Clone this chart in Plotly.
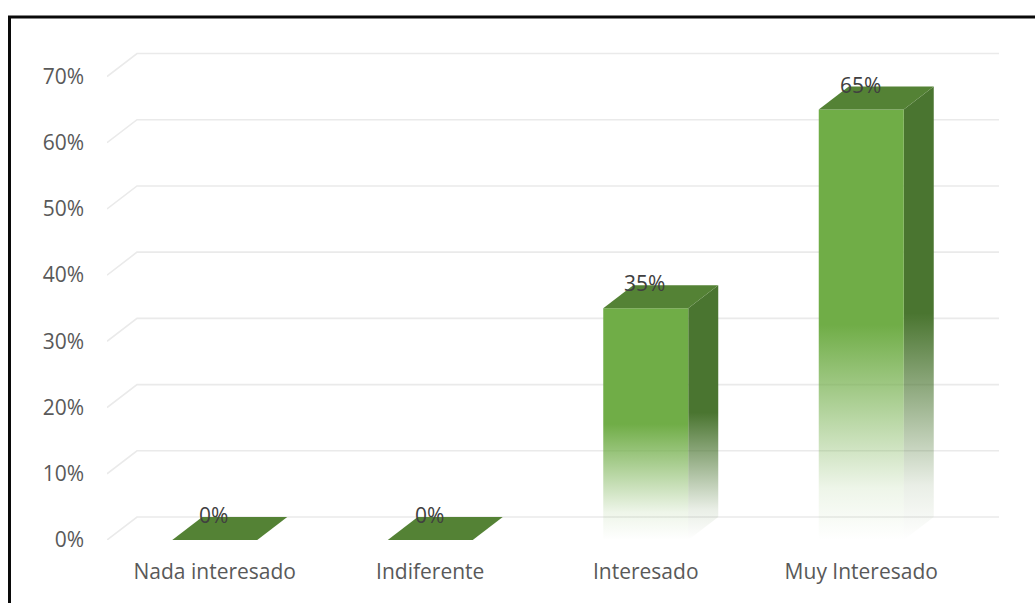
import plotly.graph_objects as go

# Survey results: level of interest
categories = ["Nada interesado", "Indiferente", "Interesado", "Muy Interesado"]
values = [0, 0, 35, 65]
value_labels = ["0%", "0%", "35%", "65%"]

y_tickvals = [0, 10, 20, 30, 40, 50, 60, 70]
y_ticktext = ["0%", "10%", "20%", "30%", "40%", "50%", "60%", "70%"]

# Figure geometry (pixels)
W, H = 1035, 603
ML, MR, MT, MB = 107, 36, 50, 62.5
plot_w = W - ML - MR
plot_h = H - MT - MB

Y_MAX = 74.0
px_per_y = plot_h / Y_MAX
n_cat = len(categories)
DEPTH_PX_X, DEPTH_PX_Y = 30, 23
px_per_x = (plot_w - DEPTH_PX_X) / n_cat
DX = DEPTH_PX_X / px_per_x          # depth offset in x units
DY = DEPTH_PX_Y / px_per_y          # depth offset in y units
BAR_W = 85 / px_per_x               # bar width in x units

X_MIN = -0.5
X_MAX = n_cat - 0.5 + DX

FRONT = "#70AD47"
TOP = "#548235"
SIDE = "#4A7530"
GRID = "#EAEAEA"
AXIS_TXT = "#595959"
LABEL_TXT = "#404040"
FONT = "Open Sans"

fig = go.Figure()

# Back wall gridlines with a short diagonal along the side wall
for t in y_tickvals:
    fig.add_trace(go.Scatter(
        x=[X_MIN, X_MIN + DX, X_MAX],
        y=[t, t + DY, t + DY],
        mode="lines",
        line=dict(color=GRID, width=1.6),
        hoverinfo="skip", showlegend=False,
    ))


def rgba(hex_color, a):
    h = hex_color.lstrip("#")
    r, g, b = int(h[0:2], 16), int(h[2:4], 16), int(h[4:6], 16)
    return f"rgba({r},{g},{b},{a})"


def fade_scale(color):
    # solid in the upper half, fading out towards the floor
    return [[0.0, rgba(color, 0.0)],
            [0.12, rgba(color, 0.12)],
            [0.5, rgba(color, 1.0)],
            [1.0, rgba(color, 1.0)]]


for i, (cat, v) in enumerate(zip(categories, values)):
    xl = i - BAR_W / 2
    xr = i + BAR_W / 2
    if v > 0:
        # side face
        fig.add_trace(go.Scatter(
            x=[xr, xr + DX, xr + DX, xr, xr],
            y=[0, DY, v + DY, v, 0],
            mode="lines", line=dict(width=0),
            fill="toself",
            fillgradient=dict(type="vertical", colorscale=fade_scale(SIDE)),
            hoverinfo="skip", showlegend=False,
        ))
        # front face
        fig.add_trace(go.Scatter(
            x=[xl, xr, xr, xl, xl],
            y=[0, 0, v, v, 0],
            mode="lines", line=dict(width=0),
            fill="toself",
            fillgradient=dict(type="vertical", colorscale=fade_scale(FRONT)),
            name=cat, hoverinfo="skip", showlegend=False,
        ))
    # top face
    fig.add_trace(go.Scatter(
        x=[xl, xr, xr + DX, xl + DX, xl],
        y=[v, v, v + DY, v + DY, v],
        mode="lines", line=dict(width=0),
        fill="toself", fillcolor=TOP,
        hoverinfo="skip", showlegend=False,
    ))

# Value labels above each bar
for i, (v, lab) in enumerate(zip(values, value_labels)):
    fig.add_annotation(
        x=i, y=v, text=lab, showarrow=False,
        xanchor="center", yanchor="middle",
        xshift=-1, yshift=25,
        font=dict(family=FONT, size=21, color=LABEL_TXT),
    )


def px_to_paper_x(px):
    return (px - ML) / plot_w


def px_to_paper_y(py):
    return (H - MB - py) / plot_h


# Outer frame (left and top edges)
fig.add_shape(
    type="path", xref="paper", yref="paper",
    path=(f"M {px_to_paper_x(9.5)} {px_to_paper_y(H + 5)} "
          f"L {px_to_paper_x(9.5)} {px_to_paper_y(17)} "
          f"L {px_to_paper_x(W + 5)} {px_to_paper_y(17)}"),
    line=dict(color="#0A0A0A", width=3),
)

fig.update_layout(
    width=W, height=H,
    margin=dict(l=ML, r=MR, t=MT, b=MB, pad=0),
    paper_bgcolor="white", plot_bgcolor="white",
    showlegend=False,
    font=dict(family=FONT, size=21, color=AXIS_TXT),
    xaxis=dict(
        range=[X_MIN, X_MAX],
        tickvals=list(range(n_cat)), ticktext=categories,
        showgrid=False, zeroline=False, showline=False, ticks="",
        ticklabelstandoff=17,
        tickfont=dict(family=FONT, size=21, color=AXIS_TXT),
        fixedrange=True,
    ),
    yaxis=dict(
        range=[0, Y_MAX],
        tickvals=y_tickvals, ticktext=y_ticktext,
        showgrid=False, zeroline=False, showline=False, ticks="",
        ticklabelstandoff=22,
        tickfont=dict(family=FONT, size=21, color=AXIS_TXT),
        fixedrange=True,
    ),
)

fig.write_html("out.html")
